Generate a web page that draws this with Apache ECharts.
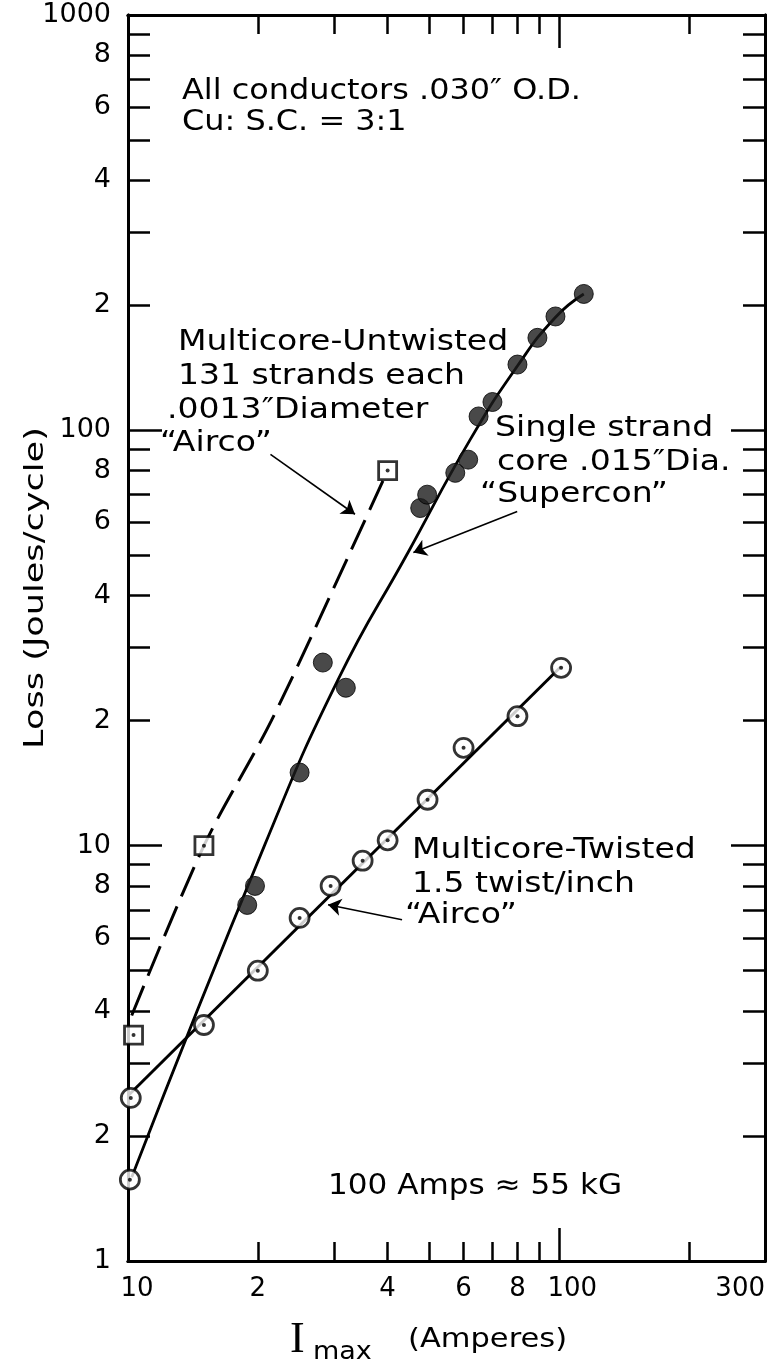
<!DOCTYPE html>
<html><head><meta charset="utf-8">
<script src="https://cdn.jsdelivr.net/npm/echarts@6/dist/echarts.min.js"></script>
<style>html,body{margin:0;padding:0;background:#fff}#c{width:775px;height:1367px}</style>
</head><body><div id="c"></div>
<script>
// ---- Data ----
const untwistedPts   = [[10.3, 3.5], [15, 10], [40, 80]];
const untwistedCurve = [[10.2, 3.9], [15, 10], [21.5, 20], [32.5, 50], [40, 80]];
const singlePts      = [[18.9, 7.2], [19.7, 8], [25, 15], [28.3, 27.6], [32, 24], [47.6, 65], [49.4, 70], [57.4, 79], [61.5, 85], [65, 108], [70, 117], [80, 144], [89, 167], [98, 188], [114, 213]];
const singleStart    = [[10.1, 1.57]];
const singleCurve    = [[10.2, 1.59], [20.8, 10.1], [30.7, 25.1], [44.6, 50.8], [62.2, 95.1], [79.9, 142.6], [97.9, 187], [114, 213]];
const twistedPts     = [[10.15, 2.47], [15, 3.7], [20, 5], [25, 6.7], [29.5, 8], [35, 9.2], [40, 10.3], [49.5, 12.9], [60, 17.2], [80, 20.5], [101, 26.8]];
const twistedLine    = [[10, 2.5], [101, 27]];
const arrowUntwisted = [[21.4, 87.5], [33.6, 62.8]];
const arrowSingle    = [[79.9, 63.8], [45.9, 50.8]];
const arrowTwisted   = [[43.2, 6.63], [29.1, 7.21]];

const xMajorTicks = [10, 100];
const xMinorTicks = [20, 30, 40, 50, 60, 70, 80, 90, 200];
const xTickLabels = [10, 20, 40, 60, 80, 100, 300];
const xFullLabels = [10, 100, 300];
const yMajorTicks = [1, 10, 100, 1000];
const yMinorTicks = [2, 3, 4, 5, 6, 7, 8, 9, 20, 30, 40, 50, 60, 70, 80, 90, 200, 300, 400, 500, 600, 700, 800, 900];
const yTickLabels = [1, 2, 4, 6, 8, 10, 20, 40, 60, 80, 100, 200, 400, 600, 800, 1000];

const FONT = 'DejaVu Sans';
function lbl(v) {
  const r = Math.round(v);
  const p = Math.round(Math.log10(r));
  if (Math.abs(Math.pow(10, p) - r) < 1e-6) return String(r);
  return String(r / Math.pow(10, Math.floor(Math.log10(r))));
}
function xlbl(v) {
  const r = Math.round(v);
  const s = xFullLabels.indexOf(r) >= 0 ? String(r) : lbl(r);
  if (r === 10) return '{a|' + s + '}';
  if (r === 100) return '{b|' + s + '}';
  return s;
}
const lineCol = '#000';
function xAx(pos, ticks, len, labels) {
  return {
    type: 'log', logBase: 10, min: 10, max: 300, position: pos,
    axisLine: { show: true, onZero: false, lineStyle: { color: lineCol, width: 3 } },
    axisTick: { show: true, inside: true, length: len, customValues: ticks, lineStyle: { color: lineCol, width: 2.5 } },
    axisLabel: labels ? {
      show: true, customValues: labels, formatter: xlbl, margin: 15,
      alignMaxLabel: 'right', hideOverlap: false,
      fontFamily: FONT, fontSize: 26, color: '#000',
      rich: {
        a: { fontFamily: FONT, fontSize: 26, color: '#000', padding: [0, 0, 0, 18] },
        b: { fontFamily: FONT, fontSize: 26, color: '#000', padding: [0, 0, 0, 26] }
      }
    } : { show: false },
    splitLine: { show: false }
  };
}
function yAx(pos, ticks, len, labels) {
  return {
    type: 'log', logBase: 10, min: 1, max: 1000, position: pos,
    axisLine: { show: true, onZero: false, lineStyle: { color: lineCol, width: 3 } },
    axisTick: { show: true, inside: true, length: len, customValues: ticks, lineStyle: { color: lineCol, width: 2.5 } },
    axisLabel: labels ? {
      show: true, customValues: labels, formatter: lbl, margin: 17,
      fontFamily: FONT, fontSize: 27, color: '#000'
    } : { show: false },
    splitLine: { show: false }
  };
}
function txt(x, y, s, size, sx) {
  return { type: 'text', x: x, y: y, scaleX: sx || 1.14, silent: true,
    style: { text: s, font: size + 'px "DejaVu Sans"', fill: '#000', align: 'left', verticalAlign: 'middle' } };
}

const chart = echarts.init(document.getElementById('c'), null, { renderer: 'canvas' });
chart.setOption({
  animation: false,
  backgroundColor: '#fff',
  grid: { left: 128, right: 10, top: 15, bottom: 106, containLabel: false, outerBoundsMode: 'none' },
  xAxis: [
    xAx('bottom', xMinorTicks, 19, xTickLabels),
    xAx('bottom', xMajorTicks, 33, null),
    xAx('top', xMinorTicks, 19, null),
    xAx('top', xMajorTicks, 33, null)
  ],
  yAxis: [
    yAx('left', yMinorTicks, 22, yTickLabels),
    yAx('left', yMajorTicks, 34, null),
    yAx('right', yMinorTicks, 22, null),
    yAx('right', yMajorTicks, 34, null)
  ],
  series: [
    { type: 'line', data: untwistedCurve, smooth: 0.3, showSymbol: false, symbol: 'none',
      lineStyle: { color: '#000', width: 3, type: [32, 11] }, z: 2, silent: true },
    { type: 'line', data: singleCurve, smooth: 0.5, showSymbol: false, symbol: 'none',
      lineStyle: { color: '#000', width: 2.8 }, z: 2, silent: true },
    { type: 'line', data: twistedLine, showSymbol: false, symbol: 'none',
      lineStyle: { color: '#000', width: 3 }, z: 2, silent: true },
    { type: 'lines', coordinateSystem: 'cartesian2d', symbol: ['none', 'arrow'], symbolSize: [0, 13],
      lineStyle: { color: '#000', width: 1.6, opacity: 1 }, z: 3, silent: true,
      data: [{ coords: arrowUntwisted }, { coords: arrowSingle }, { coords: arrowTwisted }] },
    { type: 'scatter', data: untwistedPts, symbol: 'rect', symbolSize: 18, clip: false,
      itemStyle: { color: '#fff', borderColor: '#000', borderWidth: 2.8 }, z: 5, silent: true },
    { type: 'scatter', data: untwistedPts, symbol: 'circle', symbolSize: 4, clip: false,
      itemStyle: { color: '#000' }, z: 6, silent: true },
    { type: 'scatter', data: singlePts, symbol: 'circle', symbolSize: 19, clip: false,
      itemStyle: { color: '#1c1c1c', borderColor: '#000', borderWidth: 1 }, z: 5, silent: true },
    { type: 'scatter', data: singleStart.concat(twistedPts), symbol: 'circle', symbolSize: 19, clip: false,
      itemStyle: { color: '#fff', borderColor: '#000', borderWidth: 2.8 }, z: 5, silent: true },
    { type: 'scatter', data: singleStart.concat(twistedPts), symbol: 'circle', symbolSize: 4, clip: false,
      itemStyle: { color: '#000' }, z: 6, silent: true }
  ],
  graphic: [
    txt(182, 92, 'All conductors .030\u2033 O.D.', 28),
    txt(182, 123, 'Cu: S.C. = 3:1', 28),
    txt(178, 342, 'Multicore-Untwisted', 29),
    txt(178, 376, '131 strands each', 29),
    txt(167, 410, '.0013\u2033Diameter', 29),
    txt(160, 443, '\u201CAirco\u201D', 29),
    txt(495, 428, 'Single strand', 29),
    txt(497, 462, 'core .015\u2033Dia.', 29),
    txt(480, 494, '\u201CSupercon\u201D', 29),
    txt(412, 850, 'Multicore-Twisted', 29),
    txt(412, 884, '1.5 twist/inch', 29),
    txt(405, 915, '\u201CAirco\u201D', 29),
    txt(328, 1187, '100 Amps \u2248 55 kG', 28, 1.11),
    { type: 'text', x: 36, y: 588, rotation: Math.PI / 2, scaleX: 1.3, silent: true,
      style: { text: 'Loss (Joules/cycle)', font: '27px "DejaVu Sans"', fill: '#000', align: 'center', verticalAlign: 'middle' } },
    { type: 'text', x: 290, y: 1340, silent: true, style: { text: 'I', font: '44px "Liberation Serif"', fill: '#000', align: 'left', verticalAlign: 'middle' } },
    txt(313, 1352, 'max', 25, 1.08),
    txt(408, 1340, '(Amperes)', 27, 1.13)
  ]
});
</script></body></html>
